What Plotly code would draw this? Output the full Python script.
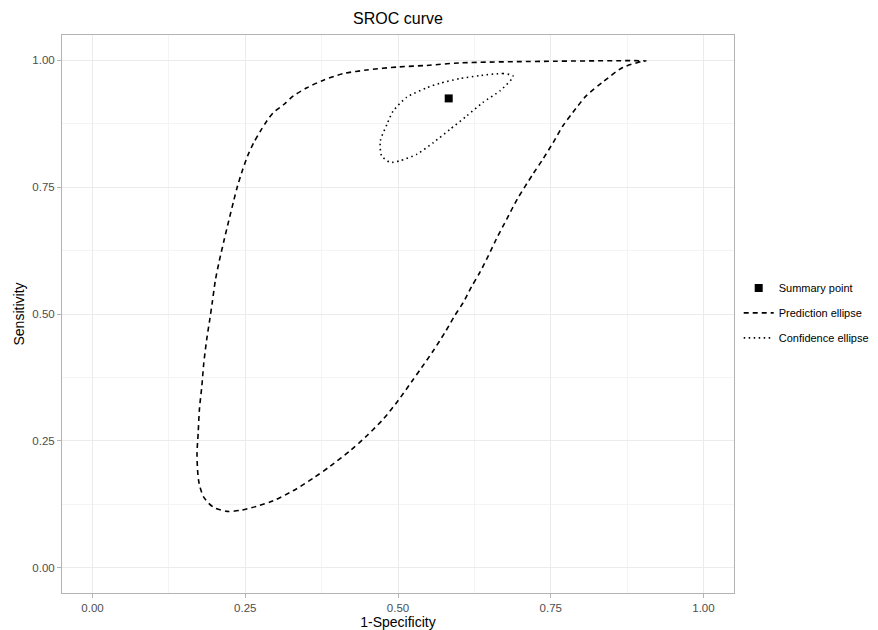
import plotly.graph_objects as go

# Prediction ellipse (1-Specificity, Sensitivity)
pred_x = [0.906, 0.732, 0.601, 0.547, 0.500, 0.449, 0.411, 0.378, 0.351, 0.329, 0.313, 0.296,
          0.285, 0.275, 0.264, 0.254, 0.245, 0.237, 0.231, 0.223, 0.215, 0.207, 0.201, 0.196,
          0.192, 0.187, 0.182, 0.179, 0.175, 0.173, 0.171, 0.174, 0.182, 0.198, 0.220, 0.242,
          0.269, 0.296, 0.329, 0.362, 0.389, 0.422, 0.449, 0.476, 0.500, 0.522, 0.539, 0.558,
          0.577, 0.593, 0.607, 0.620, 0.634, 0.648, 0.661, 0.678, 0.695, 0.721, 0.737, 0.754,
          0.770, 0.786, 0.808, 0.835, 0.868, 0.900, 0.906]
pred_y = [0.999, 0.998, 0.995, 0.990, 0.987, 0.981, 0.974, 0.961, 0.946, 0.930, 0.913, 0.897,
          0.880, 0.861, 0.838, 0.812, 0.782, 0.751, 0.723, 0.684, 0.644, 0.602, 0.566, 0.523,
          0.490, 0.451, 0.402, 0.359, 0.313, 0.267, 0.221, 0.169, 0.139, 0.119, 0.111, 0.113,
          0.121, 0.132, 0.152, 0.177, 0.200, 0.231, 0.260, 0.293, 0.329, 0.366, 0.395, 0.428,
          0.464, 0.497, 0.523, 0.553, 0.582, 0.615, 0.648, 0.687, 0.726, 0.776, 0.805, 0.838,
          0.871, 0.897, 0.930, 0.957, 0.986, 0.998, 0.999]

# Confidence ellipse
conf_x = [0.688, 0.672, 0.634, 0.601, 0.569, 0.547, 0.514, 0.492, 0.482, 0.471, 0.473, 0.487,
          0.503, 0.531, 0.558, 0.585, 0.612, 0.639, 0.667, 0.686, 0.688]
conf_y = [0.970, 0.974, 0.970, 0.964, 0.955, 0.946, 0.927, 0.900, 0.874, 0.841, 0.812, 0.799,
          0.802, 0.815, 0.838, 0.864, 0.890, 0.917, 0.940, 0.963, 0.970]

# Summary point
summary_x = [0.583]
summary_y = [0.925]

tick_vals = [0.0, 0.25, 0.5, 0.75, 1.0]
tick_text = ["0.00", "0.25", "0.50", "0.75", "1.00"]

FONT = "Liberation Sans, Arial, sans-serif"

# The page body has an 8px default margin, so the figure is 8px smaller
# than the window and all margins are measured from that offset.
W, H = 870, 622
L, R, T, B = 54, 144, 27, 37

fig = go.Figure()
fig.add_trace(go.Scatter(x=pred_x, y=pred_y, mode="lines", name="Prediction ellipse",
                         line=dict(color="black", width=1.6, dash="5px,4px", shape="spline", smoothing=0.8),
                         legendrank=2, legendgroup="p"))
fig.add_trace(go.Scatter(x=conf_x, y=conf_y, mode="lines", name="Confidence ellipse",
                         line=dict(color="black", width=1.6, dash="1.5px,3.5px", shape="spline", smoothing=0.6),
                         legendrank=3, legendgroup="c"))
fig.add_trace(go.Scatter(x=summary_x, y=summary_y, mode="markers", name="Summary point",
                         marker=dict(symbol="square", size=8, color="black"),
                         legendrank=1, legendgroup="s"))

axis_common = dict(
    tickvals=tick_vals, ticktext=tick_text,
    showgrid=True, gridcolor="#ebebeb", gridwidth=1,
    minor=dict(dtick=0.125, tick0=0, showgrid=True, gridcolor="#f4f4f4", gridwidth=0.6),
    zeroline=False, showline=True, linecolor="#b3b3b3", linewidth=1, mirror=True,
    ticks="outside", ticklen=4, tickcolor="#b3b3b3",
    tickfont=dict(family=FONT, size=11.5, color="#4d4d4d"),
    automargin=False,
)

fig.update_layout(
    width=W, height=H,
    margin=dict(l=L, r=R, t=T, b=B, autoexpand=False),
    paper_bgcolor="white", plot_bgcolor="white",
    title=dict(text="SROC curve", x=(L + (W - R)) / 2 / W, xanchor="center", y=1 - 10 / H,
               yanchor="middle", automargin=False,
               font=dict(family=FONT, size=16, color="black")),
    xaxis=dict(range=[-0.05, 1.05],
               title=dict(text="1-Specificity", font=dict(family=FONT, size=14, color="black"),
                          standoff=2),
               **axis_common),
    yaxis=dict(range=[-0.05, 1.05],
               title=dict(text="Sensitivity", font=dict(family=FONT, size=14, color="black"),
                          standoff=4),
               **axis_common),
    legend=dict(x=1.007, xanchor="left", y=0.502, yanchor="middle",
                font=dict(family=FONT, size=11, color="black"),
                itemwidth=30, tracegroupgap=6, bgcolor="rgba(0,0,0,0)"),
    showlegend=True,
)

fig.write_html("out.html")
